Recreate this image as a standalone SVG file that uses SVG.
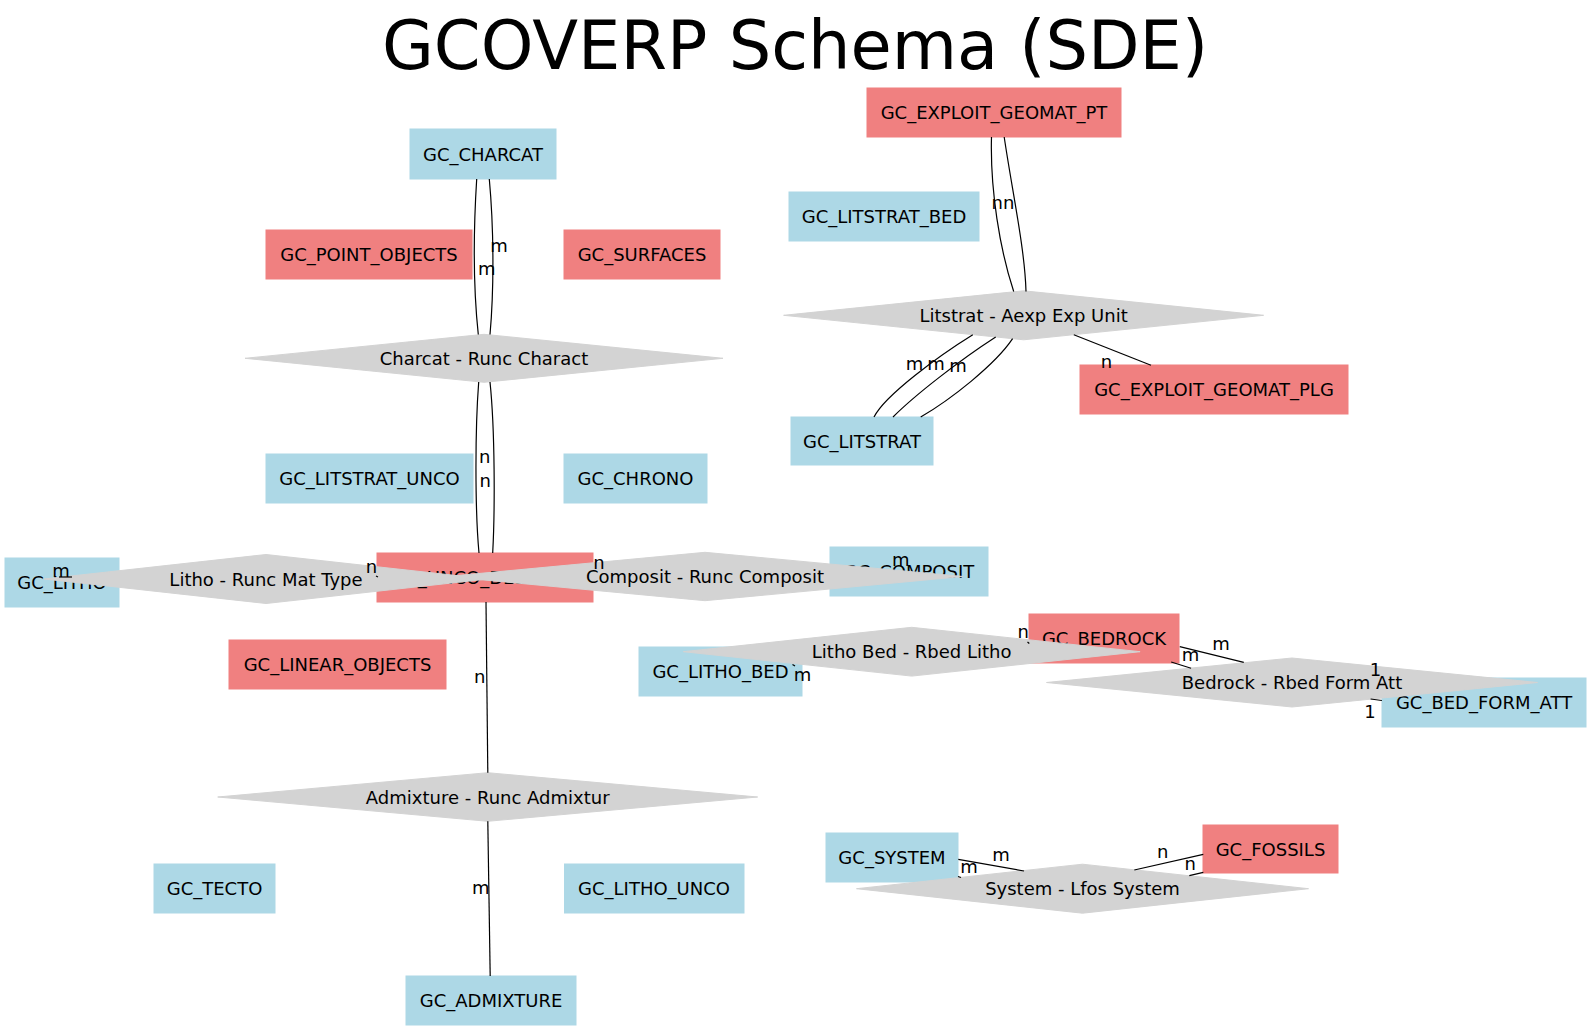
<svg xmlns="http://www.w3.org/2000/svg" width="1590" height="1030" viewBox="0 0 1590 1030">
<style>
text{font-family:"DejaVu Sans","Liberation Sans",sans-serif;fill:#000}
.t{font-size:18px;text-anchor:middle}
.title{font-size:67px;text-anchor:middle}
.ent{fill:#ADD8E6;stroke:#ADD8E6}
.tab{fill:#F08080;stroke:#F08080}
.rel{fill:#D3D3D3;stroke:#D3D3D3}
.e{fill:none;stroke:#000;stroke-width:1.2}
.l{font-size:18px;text-anchor:middle}
</style>
<rect width="1590" height="1030" fill="#fff"/>
<text class="title" x="795" y="69">GCOVERP Schema (SDE)</text>
<g id="nodes">
<g id="GC_EXPLOIT_GEOMAT_PT"><rect class="tab" x="867" y="88" width="254" height="49"/><text class="t" x="994" y="119">GC_EXPLOIT_GEOMAT_PT</text></g>
<g id="GC_CHARCAT"><rect class="ent" x="410" y="129" width="146" height="50"/><text class="t" x="483" y="160.5">GC_CHARCAT</text></g>
<g id="GC_LITSTRAT_BED"><rect class="ent" x="789" y="192" width="190" height="49"/><text class="t" x="884" y="223">GC_LITSTRAT_BED</text></g>
<g id="GC_POINT_OBJECTS"><rect class="tab" x="266" y="230" width="206" height="49"/><text class="t" x="369" y="261">GC_POINT_OBJECTS</text></g>
<g id="GC_SURFACES"><rect class="tab" x="564" y="230" width="156" height="49"/><text class="t" x="642" y="261">GC_SURFACES</text></g>
<g id="GC_EXPLOIT_GEOMAT_PLG"><rect class="tab" x="1080" y="365" width="268" height="49"/><text class="t" x="1214" y="396">GC_EXPLOIT_GEOMAT_PLG</text></g>
<g id="GC_LITSTRAT"><rect class="ent" x="791" y="417" width="142" height="48"/><text class="t" x="862" y="447.5">GC_LITSTRAT</text></g>
<g id="GC_LITSTRAT_UNCO"><rect class="ent" x="266" y="454" width="207" height="49"/><text class="t" x="369.5" y="485">GC_LITSTRAT_UNCO</text></g>
<g id="GC_CHRONO"><rect class="ent" x="564" y="454" width="143" height="49"/><text class="t" x="635.5" y="485">GC_CHRONO</text></g>
<g id="GC_LITHO"><rect class="ent" x="5" y="558" width="114" height="49"/><text class="t" x="62" y="589">GC_LITHO</text></g>
<g id="GC_UNCO_DESPOSIT"><rect class="tab" x="377" y="553" width="216" height="49"/><text class="t" x="485" y="584">GC_UNCO_DESPOSIT</text></g>
<g id="GC_COMPOSIT"><rect class="ent" x="830" y="547" width="158" height="49"/><text class="t" x="909" y="578">GC_COMPOSIT</text></g>
<g id="GC_LINEAR_OBJECTS"><rect class="tab" x="229" y="640" width="217" height="49"/><text class="t" x="337.5" y="671">GC_LINEAR_OBJECTS</text></g>
<g id="GC_LITHO_BED"><rect class="ent" x="639" y="647" width="163" height="49"/><text class="t" x="720.5" y="678">GC_LITHO_BED</text></g>
<g id="GC_BEDROCK"><rect class="tab" x="1029" y="614" width="150" height="49"/><text class="t" x="1104" y="645">GC_BEDROCK</text></g>
<g id="GC_BED_FORM_ATT"><rect class="ent" x="1382" y="678" width="204" height="49"/><text class="t" x="1484" y="709">GC_BED_FORM_ATT</text></g>
<g id="GC_TECTO"><rect class="ent" x="154" y="864" width="121" height="49"/><text class="t" x="214.5" y="895">GC_TECTO</text></g>
<g id="GC_LITHO_UNCO"><rect class="ent" x="564.5" y="864" width="179.5" height="49"/><text class="t" x="654" y="895">GC_LITHO_UNCO</text></g>
<g id="GC_ADMIXTURE"><rect class="ent" x="406" y="976" width="170" height="49"/><text class="t" x="491" y="1007">GC_ADMIXTURE</text></g>
<g id="GC_SYSTEM"><rect class="ent" x="826" y="833" width="132" height="49"/><text class="t" x="892" y="864">GC_SYSTEM</text></g>
<g id="GC_FOSSILS"><rect class="tab" x="1203" y="825" width="135" height="48"/><text class="t" x="1270.5" y="855.5">GC_FOSSILS</text></g>
<g id="rel_litstrat"><polygon class="rel" points="783.6,315.3 1023.6,290.8 1263.6,315.3 1023.6,339.8"/><text class="t" x="1023.6" y="321.8">Litstrat - Aexp Exp Unit</text></g>
<g id="rel_charcat"><polygon class="rel" points="245,358.3 484,334.3 723,358.3 484,382.3"/><text class="t" x="484" y="364.8">Charcat - Runc Charact</text></g>
<g id="rel_litho"><polygon class="rel" points="44,579 266,554.5 488,579 266,603.5"/><text class="t" x="266" y="585.5">Litho - Runc Mat Type</text></g>
<g id="rel_composit"><polygon class="rel" points="447,576.5 705,552.3 963,576.5 705,600.7"/><text class="t" x="705" y="583">Composit - Runc Composit</text></g>
<g id="rel_litho_bed"><polygon class="rel" points="683.3,651.7 911.7,627.3 1140.1,651.7 911.7,676.1"/><text class="t" x="911.7" y="658.2">Litho Bed - Rbed Litho</text></g>
<g id="rel_bedrock"><polygon class="rel" points="1046.5,682.5 1292,658 1537.5,682.5 1292,707"/><text class="t" x="1292" y="689">Bedrock - Rbed Form Att</text></g>
<g id="rel_admixture"><polygon class="rel" points="217.7,797 487.7,772.7 757.7,797 487.7,821.3"/><text class="t" x="487.7" y="803.5">Admixture - Runc Admixtur</text></g>
<g id="rel_system"><polygon class="rel" points="856.5,888.7 1082.5,864.2 1308.5,888.7 1082.5,913.2"/><text class="t" x="1082.5" y="895.2">System - Lfos System</text></g>
</g>
<g id="connectors">
<path class="e" d="M476.7,179 C473.5,230 473.5,290 478.3,334.5"/>
<path class="e" d="M489.3,179 C494,230 494,290 490,334.5"/>
<path class="e" d="M478.7,382 C475,430 475,510 479,553"/>
<path class="e" d="M490,382 C495,430 495,510 492.7,553"/>
<text class="l" x="499" y="251.5">m</text>
<text class="l" x="486.7" y="275">m</text>
<text class="l" x="484.7" y="463">n</text>
<text class="l" x="485.3" y="486.5">n</text>
<path class="e" d="M991.5,137 C990,190 1000,250 1013.7,291.5"/>
<path class="e" d="M1004.2,137 C1012,190 1025,250 1026,291.5"/>
<text class="l" x="997.3" y="209">n</text>
<text class="l" x="1008.8" y="209">n</text>
<path class="e" d="M972.8,334.7 C940,355 885,395 874,417"/>
<path class="e" d="M995.7,337 C960,360 915,395 893,417"/>
<path class="e" d="M1012.6,338.7 C995,365 950,400 920.7,417"/>
<text class="l" x="914.6" y="369.5">m</text>
<text class="l" x="936" y="370">m</text>
<text class="l" x="958" y="372">m</text>
<path class="e" d="M1073.8,334.7 L1151,365.3"/>
<text class="l" x="1106.5" y="368">n</text>
<path class="e" d="M59,577 L72,577"/>
<text class="l" x="61" y="576.5">m</text>
<path class="e" d="M376,576 L378,577"/>
<text class="l" x="371.5" y="572.5">n</text>
<text class="l" x="599" y="569">n</text>
<text class="l" x="900.8" y="566">m</text>
<path class="e" d="M1027.5,642 L1029.3,643.5"/>
<text class="l" x="1023.3" y="638">n</text>
<path class="e" d="M792.5,664.5 L795,666"/>
<text class="l" x="802.5" y="681">m</text>
<path class="e" d="M1179.8,646.7 L1243.8,662.3"/>
<path class="e" d="M1171.2,662 L1191.1,668.3"/>
<text class="l" x="1221" y="650">m</text>
<text class="l" x="1190.5" y="661">m</text>
<path class="e" d="M1370.6,699 L1381.9,700.5"/>
<text class="l" x="1375.6" y="676">1</text>
<text class="l" x="1370" y="718">1</text>
<path class="e" d="M486,602 L487.8,772.7"/>
<text class="l" x="479.8" y="682.7">n</text>
<path class="e" d="M487.8,821.3 L490.2,976"/>
<text class="l" x="480.8" y="894">m</text>
<path class="e" d="M958.3,859.3 L1024,871"/>
<text class="l" x="1001" y="860.7">m</text>
<path class="e" d="M958,876.5 L961,877.5"/>
<text class="l" x="969" y="873">m</text>
<path class="e" d="M1134.3,870 L1203.3,854.3"/>
<text class="l" x="1162.7" y="857.7">n</text>
<path class="e" d="M1189.3,875.7 L1203.3,872.3"/>
<text class="l" x="1190.3" y="870">n</text>
</g>
</svg>
